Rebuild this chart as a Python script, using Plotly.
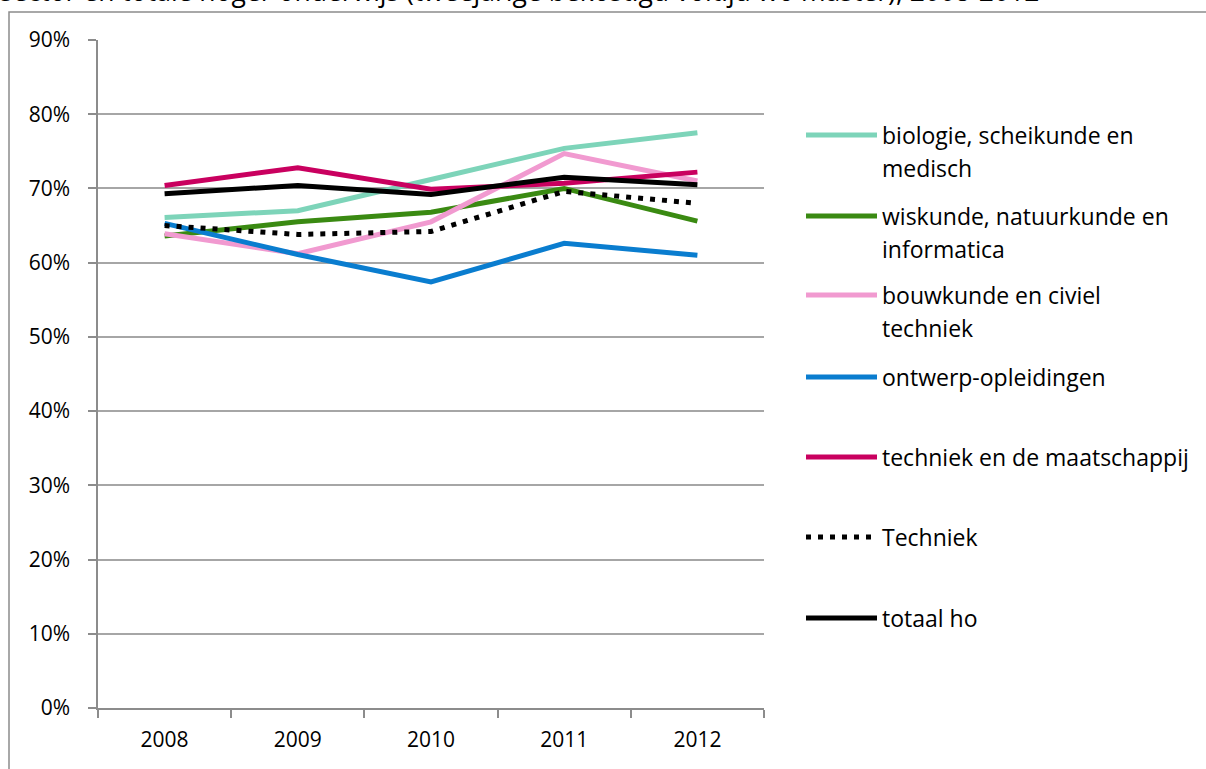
import plotly.graph_objects as go

years = ["2008", "2009", "2010", "2011", "2012"]

biologie = [66.1, 67.0, 71.2, 75.4, 77.5]
wiskunde = [63.6, 65.5, 66.8, 70.0, 65.6]
bouwkunde = [63.9, 61.2, 65.5, 74.7, 71.0]
ontwerp = [65.3, 61.1, 57.4, 62.6, 61.0]
maatschappij = [70.4, 72.8, 69.9, 70.7, 72.2]
techniek = [65.0, 63.8, 64.2, 69.6, 68.0]
totaal = [69.3, 70.4, 69.2, 71.5, 70.5]

names = ["biologie, scheikunde en medisch", "wiskunde, natuurkunde en informatica",
         "bouwkunde en civiel techniek", "ontwerp-opleidingen",
         "techniek en de maatschappij", "Techniek", "totaal ho"]
legend_lines = [["biologie, scheikunde en", "medisch"],
                ["wiskunde, natuurkunde en", "informatica"],
                ["bouwkunde en civiel", "techniek"],
                ["ontwerp-opleidingen"],
                ["techniek en de maatschappij"],
                ["Techniek"],
                ["totaal ho"]]
colors = ["#7dd4b9", "#3a8a12", "#f19ad0", "#0a7dcf", "#c9005f", "#000000", "#000000"]
dashes = ["solid", "solid", "solid", "solid", "solid", "5px,7px", "solid"]
series = [biologie, wiskunde, bouwkunde, ontwerp, maatschappij, techniek, totaal]

title = "sector en totale hoger onderwijs (tweejarige bekostigd voltijd wo master), 2008-2012"

W, H = 1206, 769
L, R, T, B = 98, 764, 40, 708
FONT = "Open Sans"
FS_AX = 21
FS_LEG = 23
FS_TITLE = 26.5

def px(x):
    return (x - L) / (R - L)

def py(y):
    return (B - y) / (B - T)

fig = go.Figure()
for n, s, c, d in zip(names, series, colors, dashes):
    fig.add_trace(go.Scatter(x=years, y=s, name=n, mode="lines",
                             line=dict(color=c, width=5, dash=d),
                             showlegend=False))

shapes = []
annotations = []
# outer frame
shapes.append(dict(type="rect", xref="paper", yref="paper",
                   x0=px(9), x1=px(1230), y0=py(790), y1=py(12),
                   line=dict(color="#8c8c8c", width=1.5), fillcolor="rgba(0,0,0,0)", layer="below"))

leg_y = [135, 216, 295, 377, 457, 537, 618]
for ly, lines, c, d in zip(leg_y, legend_lines, colors, dashes):
    shapes.append(dict(type="line", xref="paper", yref="paper",
                       x0=px(806), x1=px(877), y0=py(ly), y1=py(ly),
                       line=dict(color=c, width=5, dash=d)))
    for i, t in enumerate(lines):
        annotations.append(dict(text=t, xref="paper", yref="paper",
                                x=px(880), y=py(ly + 33 * i), xanchor="left", yanchor="middle",
                                showarrow=False, font=dict(family=FONT, size=FS_LEG, color="#000")))

annotations.append(dict(text=title, xref="paper", yref="paper", x=px(-2), y=py(11),
                        xanchor="left", yanchor="bottom", showarrow=False,
                        font=dict(family=FONT, size=FS_TITLE, color="#000")))

fig.update_layout(
    width=W, height=H,
    margin=dict(l=L, r=W - R, t=T, b=H - B, autoexpand=False),
    paper_bgcolor="white", plot_bgcolor="white",
    font=dict(family=FONT, size=FS_AX, color="#000"),
    shapes=shapes, annotations=annotations,
    xaxis=dict(type="category", range=[-0.5, 4.5], tickson="boundaries", ticks="outside",
               ticklen=8, tickwidth=1.5, tickcolor="#8c8c8c", showline=True,
               linecolor="#8c8c8c", linewidth=1.5, ticklabelstandoff=12,
               showgrid=False, zeroline=False, fixedrange=True, automargin=False),
    yaxis=dict(range=[0, 90], dtick=10, ticksuffix="%", ticks="outside", ticklen=8,
               tickwidth=1.5, tickcolor="#8c8c8c", showline=True, linecolor="#8c8c8c",
               linewidth=1.5, ticklabelstandoff=14,
               showgrid=True, gridcolor="#a6a6a6", gridwidth=1.5, zeroline=False,
               fixedrange=True, automargin=False),
)

fig.write_html("out.html", config={"displayModeBar": False},
               post_script="document.body.style.margin='0';document.body.style.overflow='hidden';")
